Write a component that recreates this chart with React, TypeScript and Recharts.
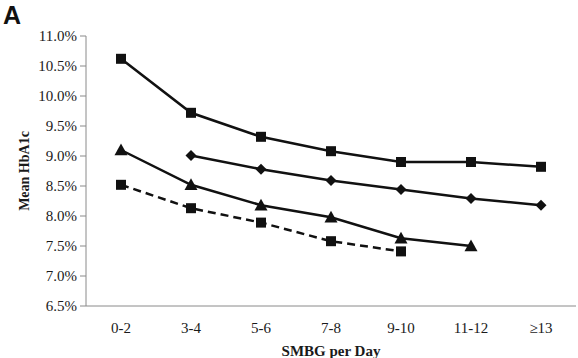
import React from 'react';
import { LineChart, Line, XAxis, YAxis, Label } from 'recharts';

const categories = ['0-2', '3-4', '5-6', '7-8', '9-10', '11-12', '≥13'];
const seriesTopSquare = [10.62, 9.72, 9.32, 9.08, 8.9, 8.9, 8.82];
const seriesDiamond = [null, 9.01, 8.78, 8.59, 8.44, 8.29, 8.18];
const seriesTriangle = [9.1, 8.52, 8.18, 7.98, 7.63, 7.5, null];
const seriesDashedSquare = [8.52, 8.13, 7.89, 7.58, 7.41, null, null];
const yTicks = [6.5, 7.0, 7.5, 8.0, 8.5, 9.0, 9.5, 10.0, 10.5, 11.0];

const data = categories.map((c, i) => ({
  x: i + 0.5,
  top: seriesTopSquare[i],
  diamond: seriesDiamond[i],
  tri: seriesTriangle[i],
  dash: seriesDashedSquare[i],
}));

const boundaryTicks = categories.map((_, i) => i).concat([categories.length]);
const centerTicks = categories.map((_, i) => i + 0.5);

const FONT = '"Liberation Serif", "Times New Roman", serif';
const AXIS = '#8a8a8a';
const TXT = '#1a1a1a';

const SquareDot = (props: any) => {
  const { cx, cy } = props;
  if (cx == null || cy == null || props.value == null) return null;
  const s = 10;
  return <rect key={`sq-${cx}-${cy}`} x={cx - s / 2} y={cy - s / 2} width={s} height={s} fill="#111" />;
};
const DiamondDot = (props: any) => {
  const { cx, cy } = props;
  if (cx == null || cy == null || props.value == null) return null;
  const r = 5.5;
  return (
    <polygon
      key={`di-${cx}-${cy}`}
      points={`${cx},${cy - r} ${cx + r},${cy} ${cx},${cy + r} ${cx - r},${cy}`}
      fill="#111"
    />
  );
};
const TriDot = (props: any) => {
  const { cx, cy } = props;
  if (cx == null || cy == null || props.value == null) return null;
  const r = 6.5;
  return (
    <polygon
      key={`tr-${cx}-${cy}`}
      points={`${cx},${cy - r} ${cx + r},${cy + r * 0.8} ${cx - r},${cy + r * 0.8}`}
      fill="#111"
    />
  );
};

const YTick = (props: any) => {
  const { x, y, payload } = props;
  return (
    <text x={x} y={y} textAnchor="end" dominantBaseline="central" fontFamily={FONT} fontSize={15} fill={TXT}>
      {Number(payload.value).toFixed(1) + '%'}
    </text>
  );
};

const XTick = (props: any) => {
  const { x, y, payload } = props;
  return (
    <text x={x} y={y} dy="0.75em" textAnchor="middle" fontFamily={FONT} fontSize={15} fill={TXT}>
      {categories[Math.round(payload.value - 0.5)]}
    </text>
  );
};

const YLabel = (props: any) => {
  const vb = props.viewBox || {};
  const cx = vb.x + 24;
  const cy = vb.y + vb.height / 2;
  return (
    <text
      x={cx}
      y={cy}
      transform={`rotate(-90, ${cx}, ${cy})`}
      textAnchor="middle"
      dominantBaseline="central"
      fontFamily={FONT}
      fontWeight="bold"
      fontSize={14}
      fill={TXT}
    >
      Mean HbA1c
    </text>
  );
};

export default function App() {
  return (
    <div
      style={{
        position: 'absolute',
        left: 0,
        top: 0,
        width: 578,
        height: 358,
        background: '#fff',
        fontFamily: FONT,
      }}
    >
      <div
        style={{
          position: 'absolute',
          left: 3,
          top: 3,
          fontFamily: '"Liberation Sans", Arial, sans-serif',
          fontWeight: 'bold',
          fontSize: 25,
          color: '#111',
          lineHeight: 1,
        }}
      >
        A
      </div>
      <LineChart width={578} height={358} data={data} margin={{ top: 36, right: 2, bottom: 0, left: 0 }}>
        <XAxis
          dataKey="x"
          type="number"
          domain={[0, categories.length]}
          ticks={boundaryTicks}
          tick={false}
          tickSize={5}
          height={6}
          stroke={AXIS}
          tickLine={{ stroke: AXIS }}
          axisLine={{ stroke: AXIS }}
        />
        <XAxis
          xAxisId="cat"
          dataKey="x"
          type="number"
          domain={[0, categories.length]}
          ticks={centerTicks}
          axisLine={false}
          tickLine={false}
          height={46}
          tickMargin={4}
          tick={<XTick />}
        >
          <Label
            value="SMBG per Day"
            position="insideBottom"
            offset={2}
            style={{ fontFamily: FONT, fontWeight: 'bold', fontSize: 15, fill: TXT }}
          />
        </XAxis>
        <YAxis
          type="number"
          domain={[6.5, 11]}
          ticks={yTicks}
          width={86}
          tickSize={6}
          tickMargin={3}
          stroke={AXIS}
          tick={<YTick />}
          allowDataOverflow
        >
          <Label content={<YLabel />} />
        </YAxis>
        <Line type="linear" dataKey="top" stroke="#111" strokeWidth={2.5} dot={<SquareDot />} isAnimationActive={false} />
        <Line type="linear" dataKey="diamond" stroke="#111" strokeWidth={2.5} dot={<DiamondDot />} isAnimationActive={false} />
        <Line type="linear" dataKey="tri" stroke="#111" strokeWidth={2.5} dot={<TriDot />} isAnimationActive={false} />
        <Line
          type="linear"
          dataKey="dash"
          stroke="#111"
          strokeWidth={2.5}
          strokeDasharray="8 5"
          dot={<SquareDot />}
          isAnimationActive={false}
        />
      </LineChart>
    </div>
  );
}
